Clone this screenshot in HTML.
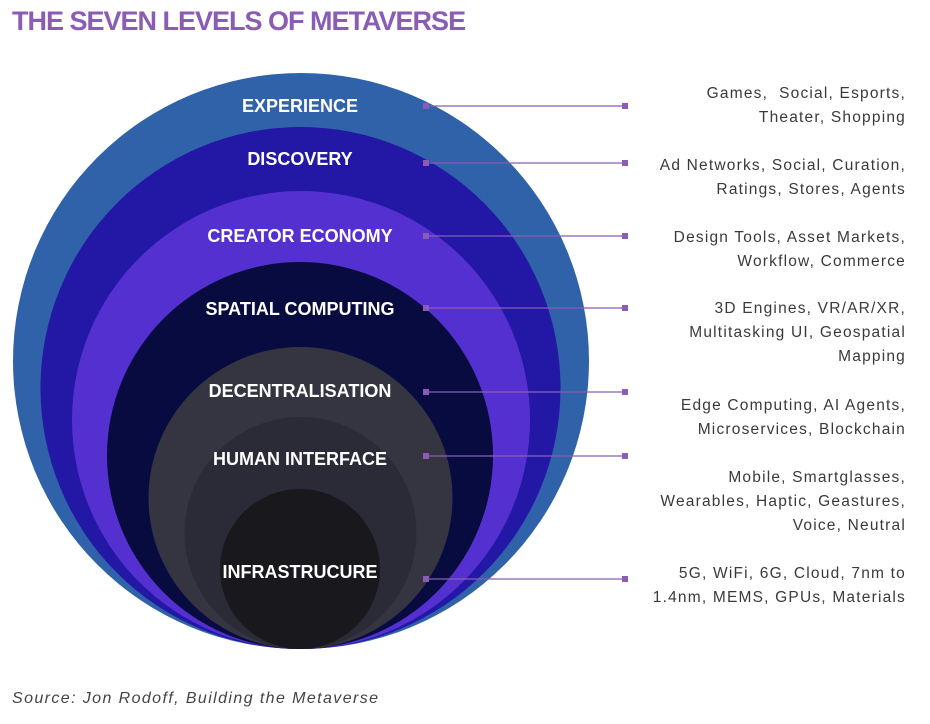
<!DOCTYPE html>
<html><head><meta charset="utf-8"><style>
body{margin:0;background:#fff;width:930px;height:724px;overflow:hidden;position:relative;font-family:"Liberation Sans",sans-serif}
.t{position:absolute;left:12px;top:6px;font-size:27px;font-weight:bold;color:#8a5cb5;letter-spacing:-1px}
.r{position:absolute;right:24px;text-align:right;font-size:15.5px;line-height:24px;color:#3a3a3a;letter-spacing:1.2px}
.s{position:absolute;left:12px;top:690px;font-size:16px;font-style:italic;color:#444;letter-spacing:1.4px}
</style></head><body>
<div class="t">THE SEVEN LEVELS OF METAVERSE</div>
<svg width="930" height="724" style="position:absolute;left:0;top:0">
<ellipse cx="301" cy="361" rx="288" ry="288" fill="#2f62a8"/>
<ellipse cx="300.5" cy="388" rx="260" ry="261" fill="#2317a6"/>
<ellipse cx="301" cy="420" rx="229" ry="229" fill="#5530d0"/>
<ellipse cx="300" cy="455.5" rx="193" ry="193.5" fill="#080b40"/>
<ellipse cx="300.5" cy="498" rx="152" ry="151" fill="#353542"/>
<ellipse cx="300.5" cy="533" rx="116" ry="116" fill="#2b2b37"/>
<ellipse cx="300" cy="569" rx="80" ry="80" fill="#18181d"/>
<g fill="#fff" font-family="Liberation Sans, sans-serif" font-weight="bold" font-size="18" text-anchor="middle">
<text x="300" y="112">EXPERIENCE</text>
<text x="300" y="165">DISCOVERY</text>
<text x="300" y="242">CREATOR ECONOMY</text>
<text x="300" y="315">SPATIAL COMPUTING</text>
<text x="300" y="397">DECENTRALISATION</text>
<text x="300" y="465">HUMAN INTERFACE</text>
<text x="300" y="578">INFRASTRUCURE</text>
</g>
<g stroke="#8a5cb5" stroke-width="1.2" fill="#8a5cb5">
<line x1="426" y1="106" x2="625" y2="106"/><rect x="423" y="103" width="6" height="6" stroke="none"/><rect x="622" y="103" width="6" height="6" stroke="none"/>
<line x1="426" y1="163" x2="625" y2="163"/><rect x="423" y="160" width="6" height="6" stroke="none"/><rect x="622" y="160" width="6" height="6" stroke="none"/>
<line x1="426" y1="236" x2="625" y2="236"/><rect x="423" y="233" width="6" height="6" stroke="none"/><rect x="622" y="233" width="6" height="6" stroke="none"/>
<line x1="426" y1="308" x2="625" y2="308"/><rect x="423" y="305" width="6" height="6" stroke="none"/><rect x="622" y="305" width="6" height="6" stroke="none"/>
<line x1="426" y1="392" x2="625" y2="392"/><rect x="423" y="389" width="6" height="6" stroke="none"/><rect x="622" y="389" width="6" height="6" stroke="none"/>
<line x1="426" y1="456" x2="625" y2="456"/><rect x="423" y="453" width="6" height="6" stroke="none"/><rect x="622" y="453" width="6" height="6" stroke="none"/>
<line x1="426" y1="579" x2="625" y2="579"/><rect x="423" y="576" width="6" height="6" stroke="none"/><rect x="622" y="576" width="6" height="6" stroke="none"/>
</g>
</svg>
<div class="r" style="top:82px">Games,&nbsp; Social, Esports,<br>Theater, Shopping</div>
<div class="r" style="top:154px">Ad Networks, Social, Curation,<br>Ratings, Stores, Agents</div>
<div class="r" style="top:226px">Design Tools, Asset Markets,<br>Workflow, Commerce</div>
<div class="r" style="top:297px">3D Engines, VR/AR/XR,<br>Multitasking UI, Geospatial<br>Mapping</div>
<div class="r" style="top:394px">Edge Computing, AI Agents,<br>Microservices, Blockchain</div>
<div class="r" style="top:466px">Mobile, Smartglasses,<br>Wearables, Haptic, Geastures,<br>Voice, Neutral</div>
<div class="r" style="top:562px">5G, WiFi, 6G, Cloud, 7nm to<br>1.4nm, MEMS, GPUs, Materials</div>
<div class="s">Source: Jon Rodoff, Building the Metaverse</div>
</body></html>
